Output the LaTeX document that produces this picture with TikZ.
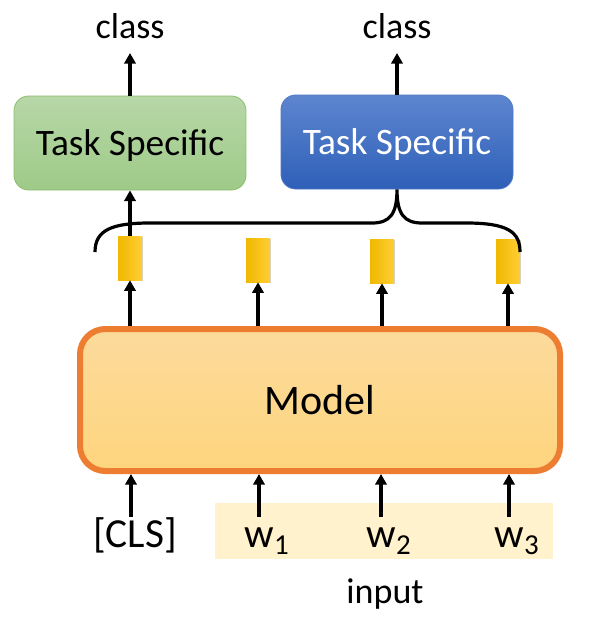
\documentclass[tikz,border=0pt]{standalone}
\usepackage{fontspec}
\setmainfont{Carlito}
\usetikzlibrary{arrows.meta,shadows}
\definecolor{gtop}{RGB}{183,215,167}
\definecolor{gbot}{RGB}{158,202,136}
\definecolor{gline}{RGB}{140,190,110}
\definecolor{btop}{RGB}{93,134,207}
\definecolor{bbot}{RGB}{46,95,184}
\definecolor{bline}{RGB}{80,120,195}
\definecolor{mtop}{RGB}{252,218,155}
\definecolor{mbot}{RGB}{254,213,126}
\definecolor{morange}{RGB}{237,125,49}
\definecolor{yleft}{RGB}{240,184,0}
\definecolor{yright}{RGB}{255,206,52}
\definecolor{inbg}{RGB}{255,242,204}
\tikzset{
  arr/.style={line width=2.3pt,-{Triangle[length=8pt,width=8.5pt]}},
  brace/.style={line width=2.4pt},
  task/.style={rounded corners=11pt,minimum width=174pt,minimum height=70.5pt,font=\fontsize{28}{30}\selectfont,inner sep=0pt,text depth=0pt},
  greenbox/.style={task,draw=gline,line width=0.6pt,top color=gtop,bottom color=gbot},
  bluebox/.style={task,draw=bline,line width=0.6pt,top color=btop,bottom color=bbot,text=white},
  modelbox/.style={rounded corners=19pt,minimum width=360pt,minimum height=106.5pt,draw=morange,line width=4.5pt,top color=mtop,bottom color=mbot,font=\fontsize{31.5}{34}\selectfont,inner sep=0pt},
  ybox/.style={minimum width=18pt,minimum height=33pt,inner sep=0pt,left color=yleft,right color=yright,drop shadow={shadow xshift=1pt,shadow yshift=-1pt,opacity=0.35}},
  lbl/.style={font=\fontsize{27}{30}\selectfont,inner sep=0pt},
  inlbl/.style={font=\fontsize{31}{34}\selectfont,inner sep=0pt}
}
\begin{document}
\begin{tikzpicture}[x=0.75pt,y=-0.75pt]
\useasboundingbox (0,0) rectangle (594,625);
% input background
\fill[inbg] (215,503) rectangle (553,559);
% boxes
\node[greenbox] (g) at (130,143) {Task Specific};
\node[bluebox] (b) at (397,142) {Task Specific};
\node[modelbox] (m) at (320,400) {Model};
\node[ybox] (y1) at (130,258) {};
\node[ybox] (y2) at (258,260) {};
\node[ybox] (y3) at (382,261) {};
\node[ybox] (y4) at (508,261) {};
% labels
\node[lbl,anchor=base] (c1) at (130,38) {class};
\node[lbl,anchor=base] (c2) at (397,38) {class};
\node[inlbl,anchor=base] (cls) at (135,547) {[CLS]};
\node[inlbl,anchor=base] (w1) at (267,547) {w\textsubscript{1}};
\node[inlbl,anchor=base] (w2) at (389,547) {w\textsubscript{2}};
\node[inlbl,anchor=base] (w3) at (517,547) {w\textsubscript{3}};
\node[lbl,anchor=base] (inp) at (385,603) {input};
% coordinates for bottom arrows
\coordinate (a0) at (131,517);
\coordinate (a1) at (259,517);
\coordinate (a2) at (381,517);
\coordinate (a3) at (509,517);
% brace
\coordinate (bl) at (95,252);
\coordinate (br) at (520,252);
\draw[brace] (bl) .. controls (95,230) and (112,223) .. (150,223) -- (372,223)
  .. controls (390,223) and (397,214) .. (b.south)
  .. controls (397,214) and (404,223) .. (422,223) -- (466,223)
  .. controls (508,223) and (520,232) .. (br);
% arrows
\draw[arr] (g.north) -- (130,53);
\draw[arr] (b.north) -- (397,53);
\draw[arr] (y1.north) -- (g.south);
\draw[arr] (m.north -| y1) -- (y1.south);
\draw[arr] (m.north -| y2) -- (y2.south);
\draw[arr] (m.north -| y3) -- (y3.south);
\draw[arr] (m.north -| y4) -- (y4.south);
\draw[arr] (a0) -- (m.south -| a0);
\draw[arr] (a1) -- (m.south -| a1);
\draw[arr] (a2) -- (m.south -| a2);
\draw[arr] (a3) -- (m.south -| a3);
\end{tikzpicture}
\end{document}
